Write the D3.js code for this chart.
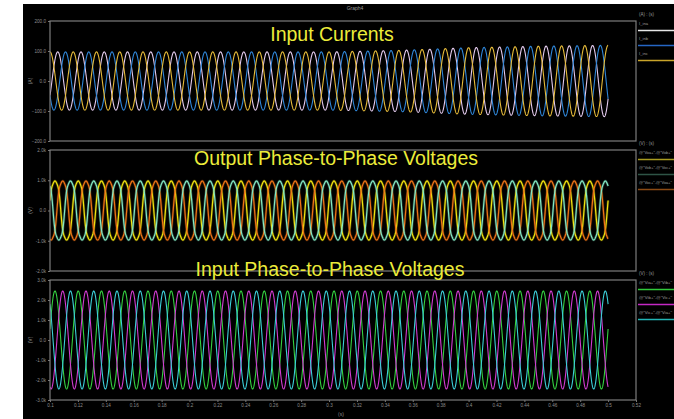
<!DOCTYPE html>
<html>
<head>
<meta charset="utf-8">
<script src="https://cdn.jsdelivr.net/npm/d3@7"></script>
<style>
html, body { margin: 0; padding: 0; background: #fff; }
svg { display: block; }
text { font-family: "Liberation Sans", Arial, sans-serif; }
</style>
</head>
<body>
<div id="container"></div>
<script>
// Canvas size
const width = 674;
const height = 419;

// Time axis (s)
const timeTicks = [0.1, 0.12, 0.14, 0.16, 0.18, 0.2, 0.22, 0.24, 0.26, 0.28, 0.3,
                   0.32, 0.34, 0.36, 0.38, 0.4, 0.42, 0.44, 0.46, 0.48, 0.5, 0.52];
const simRange = [0.1, 0.5];     // simulated interval shown
const lineFreq = 60;             // Hz, read from the spacing of the peaks

// Input currents (A)
const currentNames = ["I_ina", "I_inb", "I_inc"];
const currentPhase = [-120, -240, 0];               // deg at t = 0.1
const currentEnvTime = [0.1, 0.3, 0.35, 0.4, 0.45, 0.5];
const currentEnvAmp = [97, 97, 102, 111, 116, 119];  // peak amplitude over time
const currentTicks = [200, 100, 0, -100, -200];

// Output phase-to-phase voltages (V)
const outNames = ['@"Voa+"-@"Vob+"', '@"Vob+"-@"Voc+"', '@"Voc+"-@"Voa+"'];
const outPhase = [-77, -197, -317];
const outAmp = 1050;
const outHarmonics = [[1, 1], [3, -0.1], [5, 0.03]];  // [order, relative size]
const outTicks = [2000, 1000, 0, -1000, -2000];

// Input phase-to-phase voltages (V)
const inNames = ['@"Via+"-@"Vib+"', '@"Vib+"-@"Vic+"', '@"Vic+"-@"Via+"'];
const inPhase = [-77, -197, -317];
const inAmp = 2450;
const inTicks = [3000, 2000, 1000, 0, -1000, -2000, -3000];

function kFmt(v) {
  return v === 0 ? "0.0" : (v / 1000).toFixed(1) + "k";
}

// Panels
const panels = [
  { title: "Input Currents", unit: "(A)", header: "(A) : (s)", names: currentNames,
    colors: ["#e4cbee", "#2f86d8", "#e6bb3a"], legend: ["#e6e6e6", "#2566c4", "#c9a52a"],
    domain: [-200, 200], ticks: currentTicks, fmt: d3.format(".1f"),
    top: 21, bottom: 141, titleX: 332, titleY: 41, glow: false },
  { title: "Output Phase-to-Phase Voltages", unit: "(V)", header: "(V) : (s)", names: outNames,
    colors: ["#f2e410", "#ee7416", "#84e8c4"], legend: ["#a89a20", "#2e5446", "#8a4a14"],
    domain: [-2000, 2000], ticks: outTicks, fmt: kFmt,
    top: 150, bottom: 271, titleX: 336, titleY: 165, glow: true },
  { title: "Input Phase-to-Phase Voltages", unit: "(V)", header: "(V) : (s)", names: inNames,
    colors: ["#34d040", "#d23cd2", "#3ccfd8"], legend: ["#30c83a", "#c428c4", "#22b4b4"],
    domain: [-3000, 3000], ticks: inTicks, fmt: kFmt,
    top: 280, bottom: 400, titleX: 330, titleY: 276, glow: false }
];

const left = 50, right = 636;

const svg = d3.select("#container").append("svg")
    .attr("width", width)
    .attr("height", height);

// black graph window
svg.append("rect")
    .attr("x", 23).attr("y", 4)
    .attr("width", width - 23).attr("height", height - 4)
    .attr("fill", "#000");

svg.append("text")
    .attr("x", 355).attr("y", 10)
    .attr("text-anchor", "middle")
    .attr("font-size", 5)
    .attr("fill", "#9a9a9a")
    .text("Graph4");

const x = d3.scaleLinear().domain([0.1, 0.52]).range([left, right]);

// sampled time points of the simulation
const times = d3.range(simRange[0], simRange[1] + 1e-9, 0.0001);

const currentEnv = d3.scaleLinear().domain(currentEnvTime).range(currentEnvAmp);

const seriesValues = [
  // input currents
  currentPhase.map(ph => times.map(t =>
    currentEnv(t) * Math.cos(2 * Math.PI * lineFreq * (t - 0.1) + ph * Math.PI / 180))),
  // output voltages
  outPhase.map(ph => times.map(t => {
    const a = 2 * Math.PI * lineFreq * (t - 0.1) + ph * Math.PI / 180;
    return outAmp * d3.sum(outHarmonics, h => h[1] * Math.cos(h[0] * a));
  })),
  // input voltages
  inPhase.map(ph => times.map(t =>
    inAmp * Math.cos(2 * Math.PI * lineFreq * (t - 0.1) + ph * Math.PI / 180)))
];

panels.forEach((p, pi) => {
  const y = d3.scaleLinear().domain(p.domain).range([p.bottom, p.top]);
  const g = svg.append("g");

  // y axis
  const ay = g.append("g")
      .attr("transform", `translate(${left},0)`)
      .call(d3.axisLeft(y).tickValues(p.ticks).tickFormat(p.fmt).tickSize(2).tickPadding(2));
  ay.select(".domain").remove();
  ay.selectAll("line").attr("stroke", "#777");
  ay.selectAll("text").attr("fill", "#8c8c8c").attr("font-size", 4.6)
      .attr("font-family", "Liberation Sans, Arial, sans-serif");

  g.append("text")
      .attr("transform", `translate(32,${(p.top + p.bottom) / 2}) rotate(-90)`)
      .attr("text-anchor", "middle")
      .attr("font-size", 5)
      .attr("fill", "#8c8c8c")
      .text(p.unit);

  const line = d3.line()
      .x((d, i) => x(times[i]))
      .y(d => y(d));

  const clipId = "clip" + pi;
  g.append("clipPath").attr("id", clipId)
    .append("rect").attr("x", left).attr("y", p.top)
    .attr("width", right - left).attr("height", p.bottom - p.top);

  const curves = g.append("g").attr("clip-path", `url(#${clipId})`);
  seriesValues[pi].forEach((vals, si) => {
    if (p.glow) {
      curves.append("path")
          .attr("d", line(vals))
          .attr("fill", "none")
          .attr("stroke", p.colors[si])
          .attr("stroke-opacity", 0.25)
          .attr("stroke-width", 2.6);
    }
    curves.append("path")
        .attr("d", line(vals))
        .attr("fill", "none")
        .attr("stroke", p.colors[si])
        .attr("stroke-width", p.glow ? 1.2 : 1.1);
  });

  // panel frame
  g.append("rect")
      .attr("x", left).attr("y", p.top)
      .attr("width", right - left).attr("height", p.bottom - p.top)
      .attr("fill", "none")
      .attr("stroke", "#7c7c7c")
      .attr("stroke-width", 1.2);

  // title
  g.append("text")
      .attr("x", p.titleX).attr("y", p.titleY)
      .attr("text-anchor", "middle")
      .attr("font-size", 19.5)
      .attr("fill", "#ecec3a")
      .text(p.title);

  // legend
  const lg = g.append("g").attr("transform", `translate(639,${p.top - 6})`);
  lg.append("text")
      .attr("x", 0).attr("y", 1)
      .attr("font-size", 4.5)
      .attr("fill", "#9a9a9a")
      .text(p.header);
  p.names.forEach((n, i) => {
    const t = lg.append("text")
        .attr("x", 0).attr("y", 9.5 + i * 15)
        .attr("font-size", 4.2)
        .attr("fill", "#9a9a9a")
        .text(n);
    if (n.length > 8) {
      t.attr("textLength", 33).attr("lengthAdjust", "spacingAndGlyphs");
    }
    lg.append("line")
        .attr("x1", -1).attr("x2", 36)
        .attr("y1", 15.5 + i * 15).attr("y2", 15.5 + i * 15)
        .attr("stroke", p.legend[i])
        .attr("stroke-width", 1.6);
  });

  // x axis under the last panel
  if (pi === panels.length - 1) {
    const ax = g.append("g")
        .attr("transform", `translate(0,${p.bottom})`)
        .call(d3.axisBottom(x).tickValues(timeTicks).tickFormat(d => +d.toFixed(2))
            .tickSize(2).tickPadding(2));
    ax.select(".domain").remove();
    ax.selectAll("line").attr("stroke", "#777");
    ax.selectAll("text").attr("fill", "#8c8c8c").attr("font-size", 4.6)
        .attr("font-family", "Liberation Sans, Arial, sans-serif");
    g.append("text")
        .attr("x", 341).attr("y", 416)
        .attr("text-anchor", "middle")
        .attr("font-size", 5)
        .attr("fill", "#8c8c8c")
        .text("(s)");
  }
});
</script>
</body>
</html>
